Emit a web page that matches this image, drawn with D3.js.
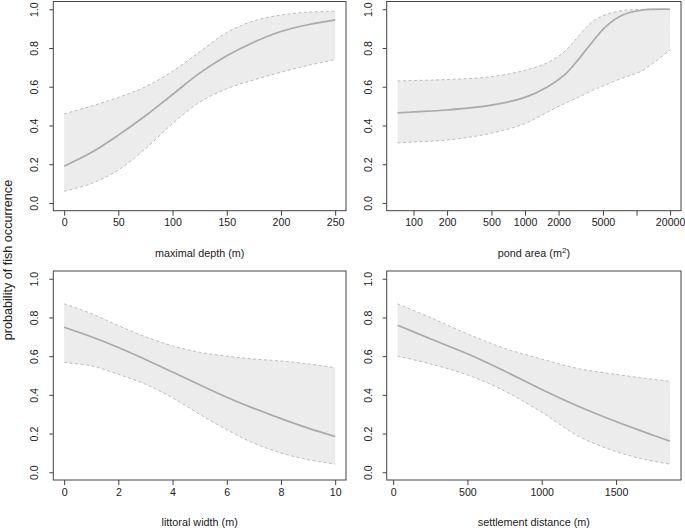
<!DOCTYPE html>
<html>
<head>
<meta charset="utf-8">
<script src="https://cdn.jsdelivr.net/npm/d3@7"></script>
<style>
  body { margin: 0; background: #fff; }
  svg { font-family: "Liberation Sans", Arial, sans-serif; }
</style>
</head>
<body>
<div id="root"></div>
<script>
const w = 685;
const h = 532;

// maximal depth (m)
const depthX = [0, 25, 50, 75, 100, 125, 150, 175, 200, 225, 250];
const depthMean = [0.19, 0.26, 0.35, 0.45, 0.56, 0.67, 0.76, 0.83, 0.885, 0.92, 0.945];
const depthUpper = [0.46, 0.5, 0.545, 0.6, 0.68, 0.78, 0.88, 0.94, 0.97, 0.985, 0.99];
const depthLower = [0.06, 0.1, 0.17, 0.28, 0.41, 0.52, 0.59, 0.635, 0.675, 0.71, 0.74];

// pond area (m2), log scale
const areaX = [72, 100, 200, 500, 1000, 1600, 2300, 3000, 4000, 5300, 7500, 11000, 20000];
const areaMean = [0.465, 0.47, 0.48, 0.505, 0.545, 0.6, 0.665, 0.74, 0.83, 0.91, 0.97, 0.995, 1.0];
const areaUpper = [0.63, 0.632, 0.637, 0.652, 0.685, 0.725, 0.785, 0.86, 0.935, 0.972, 0.993, 0.999, 1.0];
const areaLower = [0.31, 0.315, 0.325, 0.36, 0.41, 0.47, 0.515, 0.545, 0.58, 0.61, 0.645, 0.68, 0.79];

// littoral width (m)
const littX = [0, 1, 2, 3, 4, 5, 6, 7, 8, 9, 10];
const littMean = [0.749, 0.70, 0.645, 0.583, 0.518, 0.452, 0.388, 0.33, 0.277, 0.228, 0.185];
const littUpper = [0.87, 0.82, 0.758, 0.70, 0.653, 0.62, 0.60, 0.585, 0.575, 0.56, 0.54];
const littLower = [0.567, 0.55, 0.506, 0.455, 0.385, 0.30, 0.22, 0.15, 0.10, 0.065, 0.042];

// settlement distance (m)
const settX = [30, 250, 500, 750, 1000, 1250, 1500, 1700, 1864];
const settMean = [0.76, 0.69, 0.612, 0.523, 0.428, 0.34, 0.262, 0.205, 0.16];
const settUpper = [0.87, 0.80, 0.715, 0.64, 0.585, 0.535, 0.506, 0.485, 0.47];
const settLower = [0.60, 0.56, 0.503, 0.42, 0.31, 0.185, 0.107, 0.065, 0.042];

const yTicks = [0, 0.2, 0.4, 0.6, 0.8, 1.0];

const panels = [
  { label: "maximal depth (m)", x: depthX, mean: depthMean, upper: depthUpper, lower: depthLower,
    ticks: [0, 50, 100, 150, 200, 250], tickLabels: ["0", "50", "100", "150", "200", "250"],
    log: false, left: 53.3, right: 346, top: 1.5, bottom: 210.7 },
  { label: "pond area (m", sup: "2", x: areaX, mean: areaMean, upper: areaUpper, lower: areaLower,
    ticks: [100, 200, 500, 1000, 2000, 5000, 10000, 20000],
    tickLabels: ["100", "200", "500", "1000", "2000", "5000", "", "20000"],
    log: true, left: 386.7, right: 681, top: 1.5, bottom: 210.7 },
  { label: "littoral width (m)", x: littX, mean: littMean, upper: littUpper, lower: littLower,
    ticks: [0, 2, 4, 6, 8, 10], tickLabels: ["0", "2", "4", "6", "8", "10"],
    log: false, left: 53.3, right: 346, top: 271, bottom: 480 },
  { label: "settlement distance (m)", x: settX, mean: settMean, upper: settUpper, lower: settLower,
    ticks: [0, 500, 1000, 1500], tickLabels: ["0", "500", "1000", "1500"],
    log: false, left: 386.7, right: 681, top: 271, bottom: 480 },
];

const tickFont = 10.6;
const labFont = 10.8;

const svg = d3.select("#root").append("svg").attr("width", w).attr("height", h);

panels.forEach((p) => {
  const [x0, x1] = d3.extent(p.x);
  let xScale;
  if (p.log) {
    const l0 = Math.log10(x0), l1 = Math.log10(x1), pad = (l1 - l0) * 0.04;
    xScale = d3.scaleLog().domain([10 ** (l0 - pad), 10 ** (l1 + pad)]).range([p.left, p.right]);
  } else {
    const pad = (x1 - x0) * 0.04;
    xScale = d3.scaleLinear().domain([x0 - pad, x1 + pad]).range([p.left, p.right]);
  }
  const yScale = d3.scaleLinear().domain([-0.04, 1.04]).range([p.bottom, p.top]);

  const pts = p.x.map((v, i) => ({ x: v, m: p.mean[i], u: p.upper[i], l: p.lower[i] }));
  const curve = d3.curveCatmullRom.alpha(0.5);

  const g = svg.append("g");

  g.append("path")
    .datum(pts)
    .attr("fill", "#ececec")
    .attr("d", d3.area().curve(curve).x((d) => xScale(d.x)).y0((d) => yScale(d.l)).y1((d) => yScale(d.u)));

  ["u", "l"].forEach((k) => {
    g.append("path")
      .datum(pts)
      .attr("fill", "none")
      .attr("stroke", "#b5b5b5")
      .attr("stroke-width", 0.9)
      .attr("stroke-dasharray", "3,2.5")
      .attr("d", d3.line().curve(curve).x((d) => xScale(d.x)).y((d) => yScale(d[k])));
  });

  g.append("path")
    .datum(pts)
    .attr("fill", "none")
    .attr("stroke", "#aaaaaa")
    .attr("stroke-width", 1.7)
    .attr("d", d3.line().curve(curve).x((d) => xScale(d.x)).y((d) => yScale(d.m)));

  // box
  g.append("rect")
    .attr("x", p.left).attr("y", p.top)
    .attr("width", p.right - p.left).attr("height", p.bottom - p.top)
    .attr("fill", "none").attr("stroke", "#444").attr("stroke-width", 1);

  // x axis
  const xAxis = d3.axisBottom(xScale)
    .tickValues(p.ticks)
    .tickSize(5)
    .tickPadding(3)
    .tickFormat((d, i) => p.tickLabels[i]);
  const xg = g.append("g")
    .attr("transform", `translate(0,${p.bottom})`)
    .call(xAxis);
  xg.select(".domain").remove();
  xg.selectAll("line").attr("stroke", "#444");
  xg.selectAll("text").attr("font-size", tickFont).attr("fill", "#222").attr("font-family", "Liberation Sans, Arial, sans-serif");

  // y axis
  const yAxis = d3.axisLeft(yScale).tickValues(yTicks).tickSize(4).tickFormat(d3.format(".1f"));
  const yg = g.append("g").attr("transform", `translate(${p.left},0)`).call(yAxis);
  yg.select(".domain").remove();
  yg.selectAll("line").attr("stroke", "#444");
  yg.selectAll("text")
    .attr("font-size", tickFont)
    .attr("fill", "#222")
    .attr("font-family", "Liberation Sans, Arial, sans-serif")
    .attr("x", null).attr("dy", null)
    .attr("text-anchor", "middle")
    .attr("transform", "translate(-15,0) rotate(-90)");

  // x label
  const lbl = g.append("text")
    .attr("x", (p.left + p.right) / 2)
    .attr("y", p.bottom + 46)
    .attr("text-anchor", "middle")
    .attr("font-size", labFont)
    .attr("fill", "#222")
    .text(p.label);
  if (p.sup) {
    lbl.append("tspan").attr("font-size", 8).attr("dy", -4).text(p.sup);
    lbl.append("tspan").attr("dy", 4).text(")");
  }
});

svg.append("text")
  .attr("text-anchor", "middle")
  .attr("transform", `translate(12,260) rotate(-90)`)
  .attr("font-size", 12.6)
  .attr("fill", "#222")
  .text("probability of fish occurrence");
</script>
</body>
</html>
